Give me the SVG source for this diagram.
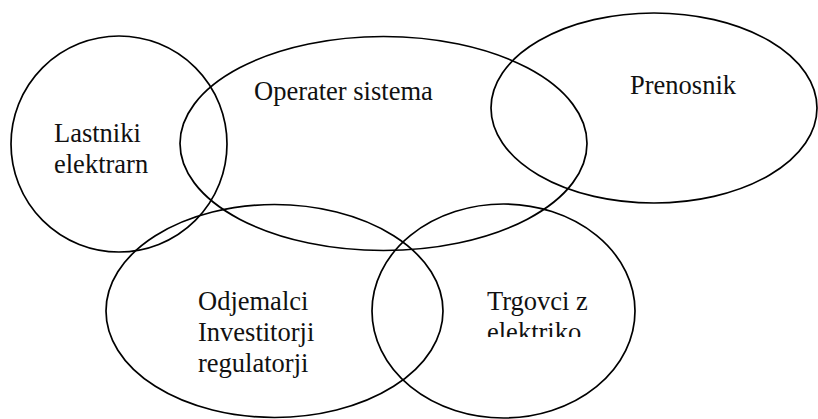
<svg xmlns="http://www.w3.org/2000/svg" width="818" height="419" viewBox="0 0 818 419">
<style>
.e{fill:none;stroke:#000;stroke-width:1.7}
.t{font-family:"Liberation Serif","Times New Roman",serif;font-size:26.5px;fill:#111}
</style>
<defs>
<clipPath id="clipTrg"><rect x="470" y="270" width="160" height="67"/></clipPath>
</defs>
<rect width="818" height="419" fill="#fff"/>
<g id="lastniki">
<ellipse class="e" cx="119" cy="144" rx="108" ry="108"/>
<text class="t" x="54" y="142">Lastniki</text>
<text class="t" x="54" y="173">elektrarn</text>
</g>
<g id="operater">
<ellipse class="e" cx="383.5" cy="143.5" rx="203.5" ry="107"/>
<text class="t" x="254" y="100">Operater sistema</text>
</g>
<g id="prenosnik">
<ellipse class="e" cx="654" cy="108" rx="163" ry="95"/>
<text class="t" x="630" y="94">Prenosnik</text>
</g>
<g id="odjemalci">
<ellipse class="e" cx="274.5" cy="311" rx="168.5" ry="106.5"/>
<text class="t" x="198" y="310">Odjemalci</text>
<text class="t" x="198" y="341">Investitorji</text>
<text class="t" x="198" y="372">regulatorji</text>
</g>
<g id="trgovci">
<ellipse class="e" cx="503.5" cy="311" rx="131.5" ry="107"/>
<g clip-path="url(#clipTrg)">
<text class="t" x="487" y="310">Trgovci z</text>
<text class="t" x="487" y="341">elektriko</text>
</g>
</g>
</svg>
